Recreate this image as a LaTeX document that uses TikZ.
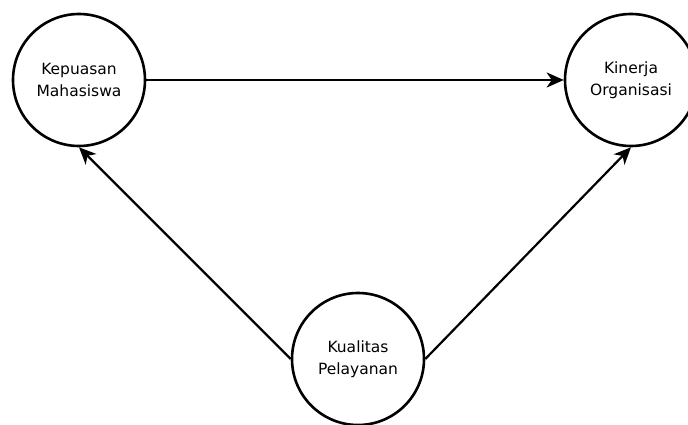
\documentclass[tikz,border=0pt]{standalone}
\usepackage{fontspec}
\setmainfont{DejaVu Sans}
\usetikzlibrary{arrows.meta}
\begin{document}
\begin{tikzpicture}[x=1pt,y=-1pt,
  circ/.style={circle,draw,line width=2.6pt,minimum size=132pt,inner sep=0pt,align=center,font=\fontsize{15.5}{22}\selectfont},
  arr/.style={line width=2.2pt,-{Stealth[length=17pt,width=15pt,inset=5pt]}}]
\useasboundingbox (0,0) rectangle (688,425);
\clip (0,0) rectangle (688,425);
\node[circ] (kep) at (79,80) {Kepuasan\\Mahasiswa};
\node[circ] (kin) at (631,80) {Kinerja\\Organisasi};
\node[circ] (kua) at (358,359) {Kualitas\\Pelayanan};
\draw[arr] (kep.east) -- (kin.west);
\draw[arr] (kua.west) -- (kep.south);
\draw[arr] (kua.east) -- (kin.south);
\end{tikzpicture}
\end{document}
